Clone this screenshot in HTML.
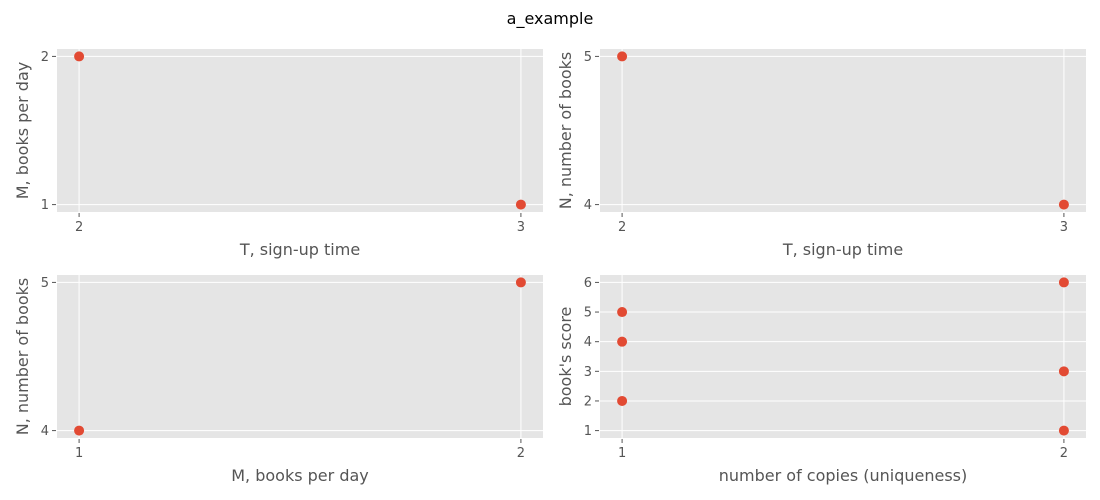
<!DOCTYPE html>
<html><head><meta charset="utf-8"><style>body{margin:0;background:#fff}svg{display:block}</style></head>
<body>
<svg id="fig" width="1100" height="500" xmlns="http://www.w3.org/2000/svg" font-family="DejaVu Sans, Liberation Sans, sans-serif">
<text x="550" y="24" text-anchor="middle" font-size="16" fill="#000">a_example</text>
</svg>
<script>
const p1x=[2,3], p1y=[2,1];
const p2x=[2,3], p2y=[5,4];
const p3x=[1,2], p3y=[4,5];
const p4x=[1,1,1,2,2,2], p4y=[5,4,2,6,3,1];
const t1x=[2,3], t1y=[1,2];
const t2x=[2,3], t2y=[4,5];
const t3x=[1,2], t3y=[4,5];
const t4x=[1,2], t4y=[1,2,3,4,5,6];
const panels=[
 {name:'signup-vs-books-per-day',x:57,y:49,w:486,h:163,xs:p1x,ys:p1y,tx:t1x,ty:t1y,xl:'T, sign-up time',yl:'M, books per day'},
 {name:'signup-vs-number-of-books',x:600,y:49,w:486,h:163,xs:p2x,ys:p2y,tx:t2x,ty:t2y,xl:'T, sign-up time',yl:'N, number of books'},
 {name:'books-per-day-vs-number-of-books',x:57,y:275,w:486,h:163,xs:p3x,ys:p3y,tx:t3x,ty:t3y,xl:'M, books per day',yl:'N, number of books'},
 {name:'copies-vs-score',x:600,y:275,w:486,h:163,xs:p4x,ys:p4y,tx:t4x,ty:t4y,xl:'number of copies (uniqueness)',yl:"book's score"}
];
const NS='http://www.w3.org/2000/svg', svg=document.getElementById('fig');
function mk(t,a,par){const e=document.createElementNS(NS,t);for(const k in a)e.setAttribute(k,a[k]);(par||svg).appendChild(e);return e;}
panels.forEach(p=>{
 const g=mk('g',{});
 
 
 const xmin=Math.min(...p.xs),xmax=Math.max(...p.xs),ymin=Math.min(...p.ys),ymax=Math.max(...p.ys);
 const xr=(xmax-xmin)||1, yr=(ymax-ymin)||1;
 const sx=v=>p.x+p.w/22+(v-xmin)/xr*(p.w*20/22);
 const sy=v=>p.y+p.h-p.h/22-(v-ymin)/yr*(p.h*20/22);
 const bg=mk('rect',{x:p.x,y:p.y,width:p.w,height:p.h,fill:'#e5e5e5'},g);
 
 
 p.tx.forEach(v=>{const px=sx(v);
  mk('line',{x1:px,x2:px,y1:p.y,y2:p.y+p.h,stroke:'#fff','stroke-width':1},g);
  mk('line',{x1:px,x2:px,y1:p.y+p.h+1,y2:p.y+p.h+5,stroke:'#555','stroke-width':1},g);
  const t=mk('text',{x:px,y:p.y+p.h+19,'text-anchor':'middle','font-size':13,fill:'#555'},g);t.textContent=v;
  
  });
 p.ty.forEach(v=>{const py=sy(v);
  mk('line',{x1:p.x,x2:p.x+p.w,y1:py,y2:py,stroke:'#fff','stroke-width':1},g);
  mk('line',{x1:p.x-5,x2:p.x-1,y1:py,y2:py,stroke:'#555','stroke-width':1},g);
  const t=mk('text',{x:p.x-8,y:py+4.5,'text-anchor':'end','font-size':13,fill:'#555'},g);t.textContent=v;
  
  });
 p.xs.forEach((v,i)=>{const c=mk('circle',{cx:sx(v),cy:sy(p.ys[i]),r:5,fill:'#e24a33'},g);
  
  });
 const xl=mk('text',{x:p.x+p.w/2,y:p.y+p.h+43,'text-anchor':'middle','font-size':16,fill:'#555'},g);xl.textContent=p.xl;
 
 
 const cy=p.y+p.h/2, tx=p.x-29;
 const yl=mk('text',{x:tx,y:cy,'text-anchor':'middle','font-size':16,fill:'#555',transform:`rotate(-90 ${tx} ${cy})`},g);yl.textContent=p.yl;
 
 
});
</script>
</body></html>
